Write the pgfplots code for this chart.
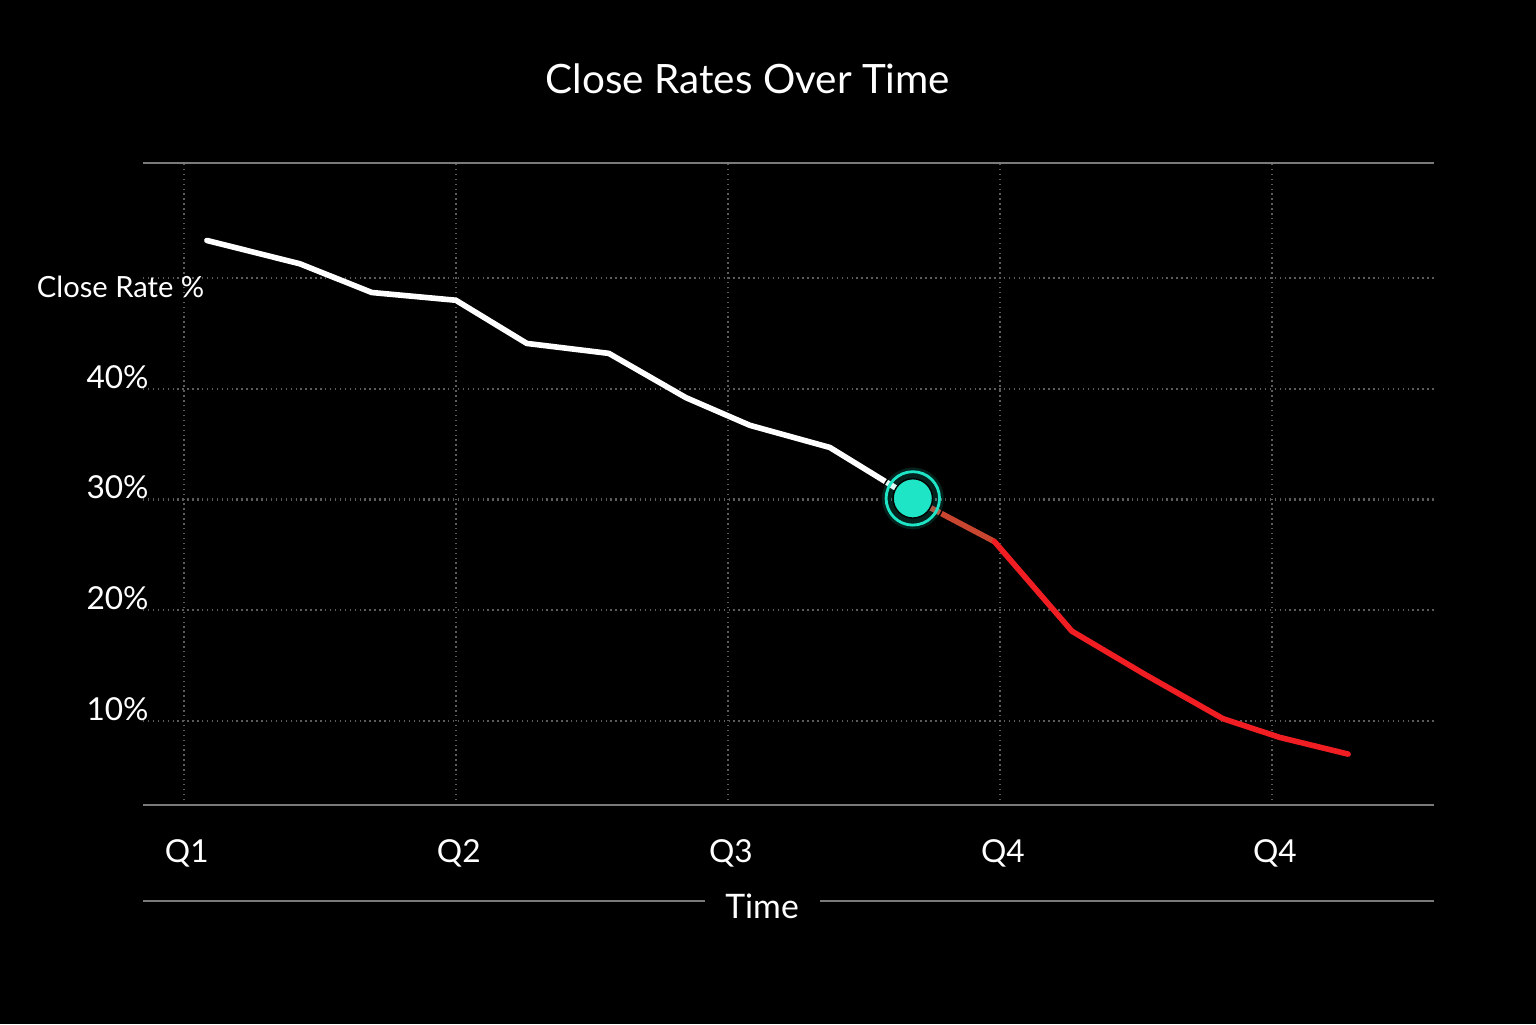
\documentclass[border=0pt]{standalone}
\usepackage{pgfplots}
\pgfplotsset{compat=1.18}
\usepackage{fontspec}
\setmainfont{Lato}
\definecolor{tealm}{HTML}{1DE5C5}
\definecolor{redl}{HTML}{F01E23}
\definecolor{redd}{HTML}{C8452F}
\definecolor{gridc}{HTML}{5C5C5C}
\definecolor{framec}{HTML}{7A7A7A}
\begin{document}
\begin{tikzpicture}[x=1cm,y=1cm]
\fill[black] (0,0) rectangle (15.36,10.24);
\useasboundingbox (0,0) rectangle (15.36,10.24);
\begin{axis}[
  at={(1.43cm,2.19cm)}, anchor=south west,
  scale only axis, width=12.91cm, height=6.42cm,
  xmin=-0.15, xmax=4.596, ymin=2.4, ymax=60.4,
  axis line style={draw=none},
  xtick={0,1,2,3,4}, xticklabels={Q1,Q2,Q3,Q4,Q4},
  ytick={10,20,30,40,50}, yticklabels={10\%,20\%,30\%,40\%,{}},
  grid=major, major grid style={gridc, densely dotted, line width=0.6pt},
  tick style={draw=none},
  ticklabel style={font=\fontsize{9}{11}\selectfont, text=white},
  yticklabel style={anchor=east, xshift=0.18cm, yshift=0.12cm},
  xticklabel style={yshift=-0.22cm, xshift=0.03cm},
  clip=false,
]
\draw[framec, line width=0.8pt] (rel axis cs:0,0) -- (rel axis cs:1,0);
\draw[framec, line width=0.8pt] (rel axis cs:0,1) -- (rel axis cs:1,1);
\addplot[white, line width=1.6pt, line join=round, line cap=round] coordinates {
 (0.085,53.4) (0.426,51.3) (0.691,48.7) (1.0,48.0) (1.261,44.1) (1.5625,43.2)
 (1.846,39.2) (2.081,36.7) (2.375,34.7) (2.68,30.1)
};
\addplot[redd, line width=1.6pt, line join=round] coordinates {
 (2.68,30.1) (2.98,26.2)
};
\addplot[redl, line width=1.6pt, line join=round, line cap=round] coordinates {
 (2.98,26.2) (3.265,18.1) (3.533,14.2) (3.82,10.2) (4.03,8.5) (4.28,7.0)
};
\addplot[only marks, mark=*, mark size=9pt, mark options={draw=none, fill=tealm, fill opacity=0.15}] coordinates {(2.68,30.1)};
\addplot[only marks, mark=o, mark size=7.6pt, mark options={draw=tealm, line width=0.8pt}] coordinates {(2.68,30.1)};
\addplot[only marks, mark=*, mark size=5.6pt, mark options={draw=none, fill=tealm}] coordinates {(2.68,30.1)};
\end{axis}
\node[white, font=\fontsize{11.5}{14}\selectfont] at (7.48,9.45) {Close Rates Over Time};
\node[white, font=\fontsize{8.3}{10}\selectfont, anchor=east, inner sep=0pt] at (2.05,7.37) {Close Rate \%};
\node[white, font=\fontsize{9.6}{12}\selectfont] (T) at (7.62,1.18) {Time};
\draw[framec, line width=0.8pt] (1.43,1.23) -- (7.05,1.23);
\draw[framec, line width=0.8pt] (8.20,1.23) -- (14.34,1.23);
\end{tikzpicture}
\end{document}
